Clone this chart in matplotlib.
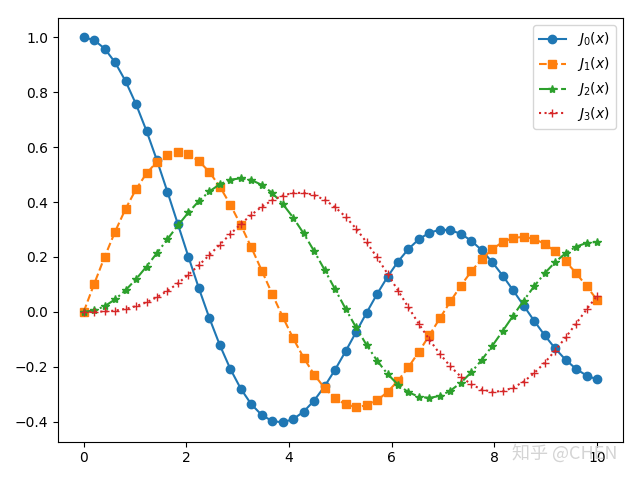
import matplotlib.pyplot as plt

# 50 sample points between 0 and 10
x = [0.0, 0.2041, 0.4082, 0.6122, 0.8163, 1.0204, 1.2245, 1.4286, 1.6327, 1.8367,
     2.0408, 2.2449, 2.4490, 2.6531, 2.8571, 3.0612, 3.2653, 3.4694, 3.6735, 3.8776,
     4.0816, 4.2857, 4.4898, 4.6939, 4.8980, 5.1020, 5.3061, 5.5102, 5.7143, 5.9184,
     6.1224, 6.3265, 6.5306, 6.7347, 6.9388, 7.1429, 7.3469, 7.5510, 7.7551, 7.9592,
     8.1633, 8.3673, 8.5714, 8.7755, 8.9796, 9.1837, 9.3878, 9.5918, 9.7959, 10.0]

j0 = [1.0000, 0.9896, 0.9588, 0.9085, 0.8402, 0.7561, 0.6589, 0.5513, 0.4367, 0.3186,
      0.2004, 0.0855, -0.0227, -0.1214, -0.2079, -0.2801, -0.3364, -0.3757, -0.3977, -0.4023,
      -0.3905, -0.3634, -0.3229, -0.2710, -0.2104, -0.1436, -0.0737, -0.0034, 0.0645, 0.1274,
      0.1830, 0.2292, 0.2647, 0.2882, 0.2992, 0.2977, 0.2840, 0.2591, 0.2243, 0.1811,
      0.1316, 0.0780, 0.0224, -0.0327, -0.0853, -0.1332, -0.1745, -0.2078, -0.2319, -0.2459]

j1 = [0.0000, 0.1015, 0.1999, 0.2920, 0.3751, 0.4466, 0.5044, 0.5469, 0.5729, 0.5819,
      0.5738, 0.5492, 0.5093, 0.4557, 0.3904, 0.3159, 0.2349, 0.1502, 0.0648, -0.0183,
      -0.0966, -0.1673, -0.2283, -0.2778, -0.3144, -0.3373, -0.3460, -0.3409, -0.3224, -0.2919,
      -0.2509, -0.2012, -0.1451, -0.0849, -0.0232, 0.0378, 0.0954, 0.1477, 0.1926, 0.2286,
      0.2545, 0.2694, 0.2731, 0.2657, 0.2477, 0.2200, 0.1840, 0.1413, 0.0938, 0.0435]

j2 = [0.0000, 0.0052, 0.0205, 0.0454, 0.0788, 0.1192, 0.1651, 0.2144, 0.2651, 0.3150,
      0.3619, 0.4037, 0.4386, 0.4649, 0.4812, 0.4865, 0.4803, 0.4623, 0.4330, 0.3929,
      0.3432, 0.2854, 0.2212, 0.1527, 0.0820, 0.0114, -0.0567, -0.1204, -0.1774, -0.2261,
      -0.2649, -0.2929, -0.3091, -0.3134, -0.3059, -0.2871, -0.2581, -0.2200, -0.1746, -0.1237,
      -0.0693, -0.0136, 0.0413, 0.0933, 0.1405, 0.1811, 0.2137, 0.2373, 0.2511, 0.2546]

j3 = [0.0000, 0.0002, 0.0014, 0.0047, 0.0109, 0.0207, 0.0348, 0.0534, 0.0765, 0.1041,
      0.1355, 0.1702, 0.2071, 0.2452, 0.2833, 0.3198, 0.3534, 0.3828, 0.4066, 0.4236,
      0.4329, 0.4336, 0.4254, 0.4079, 0.3814, 0.3462, 0.3032, 0.2535, 0.1983, 0.1391,
      0.0778, 0.0161, -0.0442, -0.1012, -0.1532, -0.1985, -0.2359, -0.2642, -0.2827, -0.2908,
      -0.2884, -0.2759, -0.2539, -0.2232, -0.1851, -0.1411, -0.0930, -0.0424, 0.0087, 0.0584]

fig, ax = plt.subplots(figsize=(6.4, 4.8), dpi=100)

ax.plot(x, j0, 'o-', label=r'$J_0(x)$')
ax.plot(x, j1, 's--', label=r'$J_1(x)$')
ax.plot(x, j2, '*-.', label=r'$J_2(x)$')
ax.plot(x, j3, '+:', label=r'$J_3(x)$')

ax.legend()
fig.subplots_adjust(left=0.0906, right=0.973, top=0.9625, bottom=0.08)

# watermark
fig.text(0.80, 0.045, '知乎 @CHEN', fontsize=13, color='#d0d0d0', alpha=0.9,
         family=['Noto Sans CJK SC', 'DejaVu Sans'], zorder=10)

fig.savefig('out.png')
